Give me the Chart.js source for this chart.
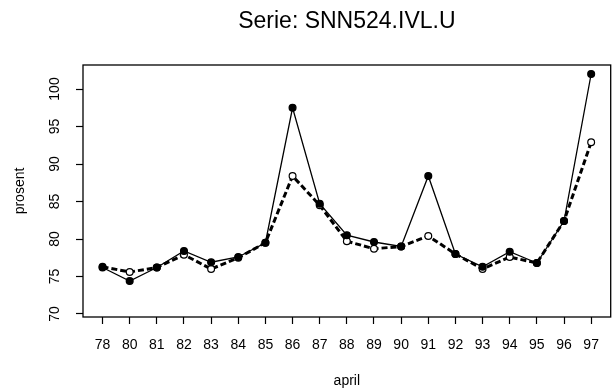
<!DOCTYPE html>
<html>
<head>
<meta charset="utf-8">
<script src="https://cdn.jsdelivr.net/npm/chart.js@4/dist/chart.umd.min.js"></script>
<style>
  body { margin: 0; background: #fff; }
  #wrap { width: 616px; height: 390px; }
</style>
</head>
<body>
<div id="wrap"><canvas id="grafSerie"></canvas></div>
<script>
const kategorier = ['78', '80', '81', '82', '83', '84', '85', '86', '87', '88', '89', '90', '91', '92', '93', '94', '95', '96', '97'];
const ujustert = [76.2, 74.4, 76.2, 78.4, 76.9, 77.6, 79.5, 97.5, 84.7, 80.5, 79.6, 79.0, 88.4, 78.0, 76.3, 78.3, 76.8, 82.4, 102.0];
const justert = [76.3, 75.6, 76.2, 77.9, 76.0, 77.5, 79.5, 88.4, 84.5, 79.7, 78.7, 79.0, 80.4, 78.0, 76.0, 77.6, 76.8, 82.4, 92.9];
const yTicks = [70, 75, 80, 85, 90, 95, 100];

document.addEventListener("DOMContentLoaded", function () {
  Chart.defaults.font.family = "'Liberation Sans', Arial, sans-serif";
  Chart.defaults.color = '#000';

  // ramme rundt plottet
  const ramme = {
    id: 'ramme',
    afterDraw(chart) {
      const a = chart.chartArea, ctx = chart.ctx;
      ctx.save();
      ctx.strokeStyle = '#000';
      ctx.lineWidth = 1.3;
      ctx.strokeRect(a.left, a.top, a.right - a.left, a.bottom - a.top);
      ctx.restore();
    }
  };

  const punkter = arr => arr.map((v, i) => ({ x: i + 1, y: v }));

  new Chart(document.getElementById("grafSerie"), {
    type: 'line',
    data: {
      datasets: [
        {
          data: punkter(ujustert),
          borderColor: '#000',
          borderWidth: 1.3,
          pointRadius: 3.4,
          pointBackgroundColor: '#000',
          pointBorderColor: '#000',
          tension: 0
        },
        {
          data: punkter(justert),
          borderColor: '#000',
          borderWidth: 3,
          borderDash: [6, 3],
          pointRadius: 3.4,
          pointBorderWidth: 1.2,
          pointBackgroundColor: '#fff',
          pointBorderColor: '#000',
          tension: 0
        }
      ]
    },
    options: {
      responsive: true,
      maintainAspectRatio: false,
      animation: false,
      layout: { padding: { left: 0, right: 1, top: 0, bottom: 0 } },
      plugins: {
        legend: { display: false },
        tooltip: { enabled: false },
        title: {
          display: true,
          fullSize: false,
          text: 'Serie: SNN524.IVL.U',
          color: '#000',
          font: { size: 23, weight: 'normal' },
          padding: { top: 7.5, bottom: 29.9 }
        }
      },
      scales: {
        x: {
          type: 'linear',
          min: 0.28,
          max: 19.72,
          afterBuildTicks(scale) {
            scale.ticks = kategorier.map((k, i) => ({ value: i + 1 }));
          },
          afterFit(scale) { scale.height = 73; },
          ticks: {
            autoSkip: false,
            maxRotation: 0,
            padding: 13,
            font: { size: 14 },
            callback: (v) => kategorier[v - 1]
          },
          grid: { drawOnChartArea: false, drawTicks: true, tickLength: 7, tickColor: '#000', tickWidth: 1.2 },
          border: { display: false },
          title: { display: true, text: 'april', font: { size: 14 }, padding: { top: 2, bottom: 0 } }
        },
        y: {
          min: 69.6,
          max: 103.2,
          afterBuildTicks(scale) {
            scale.ticks = yTicks.map(v => ({ value: v }));
          },
          afterFit(scale) { scale.width = 83; },
          ticks: {
            autoSkip: false,
            minRotation: 90,
            maxRotation: 90,
            crossAlign: 'center',
            padding: 9,
            font: { size: 14 }
          },
          grid: { drawOnChartArea: false, drawTicks: true, tickLength: 7, tickColor: '#000', tickWidth: 1.2 },
          border: { display: false },
          title: { display: true, text: 'prosent', font: { size: 14 }, padding: { top: 12, bottom: 0 } }
        }
      }
    },
    plugins: [ramme]
  });
});
</script>
</body>
</html>
